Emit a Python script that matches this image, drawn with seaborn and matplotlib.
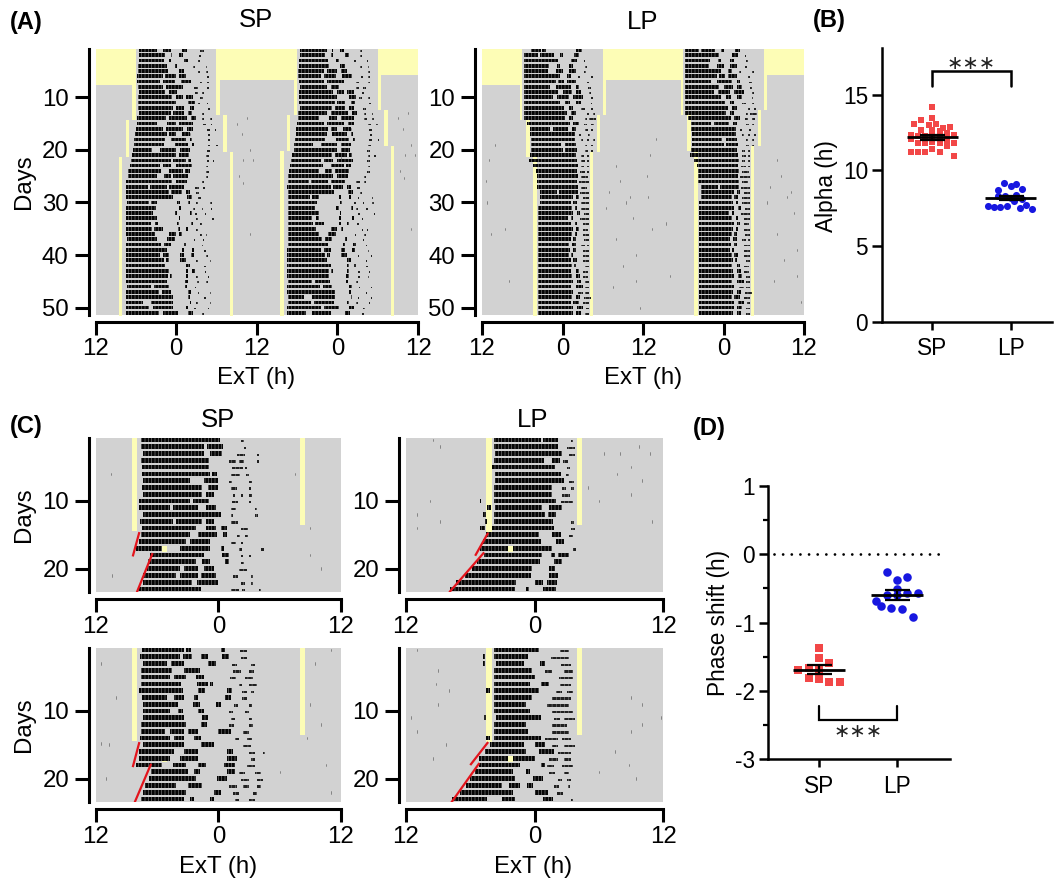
import matplotlib
matplotlib.use("Agg")
import matplotlib.pyplot as plt
import matplotlib.transforms as mtransforms
import pandas as pd
import seaborn as sns

# ---------------- Panel B / D values ----------------
B_SP_X = [0,-.14,0,-.23,-.05,.05,.13,.23,-.14,0,.10,.19,.28,-.28,-.18,-.09,0,.10,.19,-.28,-.18,-.09,0,.10,.19,.28,-.28,-.18,-.09,0,.10,.19,.28]
B_SP_Y = [14.2,13.35,13.45,13.05,13.0,13.1,12.8,12.85,12.65,12.65,12.6,12.5,12.35,12.35,12.25,12.25,12.3,12.2,12.15,12.05,11.85,11.8,11.9,11.8,11.85,11.85,11.25,11.25,11.2,11.4,11.2,11.6,10.95]
B_LP_X = [-.09,.07,-.16,0,.15,-.16,-.07,.07,0,.15,-.29,-.21,-.13,-.05,.04,.12,.2,.28]
B_LP_Y = [9.2,9.1,8.7,9.0,8.75,8.3,8.3,8.4,8.15,8.1,7.65,7.6,7.6,7.65,7.95,7.5,7.7,7.45]
B_MEAN = [12.2, 8.2]
B_SEM = [0.16, 0.13]
D_SP_X = [0,0,.13,-.265,-.13,0,-.13,0,.13,.265]
D_SP_Y = [-1.37,-1.52,-1.59,-1.69,-1.67,-1.68,-1.81,-1.82,-1.87,-1.87]
D_LP_X = [-.13,0,.13,0,.13,.265,0,-.13,-.27,-.2,-.07,.07,.2]
D_LP_Y = [-.26,-.37,-.33,-.51,-.56,-.57,-.6,-.6,-.68,-.76,-.79,-.80,-.91]
D_MEAN = [-1.69, -0.60]
D_SEM = [0.065, 0.075]
GROUPS = ["SP", "LP"]

# ---------------- Lighting schedules: (hour from, hour to, day from, day to) ----------------
A_SP_LIGHT = [(0,6,0,7.65),(18,24,0,6.7),(5.5,6,7.65,14.4),(18,18.5,6.7,13.45),(4.5,5,14.4,21.3),(19,19.5,13.45,20.35),(3.5,4,21.3,53),(20,20.5,20.35,53)]
A_LP_LIGHT = [(0,6,0,7.65),(18,24,0,6.7),(5.6,6,7.65,14.4),(18,18.5,6.7,13.45),(6.6,7.1,14.4,21.3),(17.1,17.6,13.45,20.35),(7.6,8.2,21.3,53),(16.1,16.6,20.35,53)]
C_SP_LIGHT = [(3.5,4.0,0,14.5),(20,20.5,0,13.5),(6.5,7.0,16.6,17.5)]
C_LP_LIGHT = [(7.5,8.0,0,14.55),(16,16.45,0,13.55),(9.5,10.0,16.6,17.5)]

# ---------------- Red onset fits: (hour, day) ----------------
C1_RED = [[(4.25,14.6),(3.6,18.2)],[(5.55,17.7),(4.0,23.5)]]
C2_RED = [[(7.67,14.7),(6.46,18.1)],[(7.3,17.6),(4.04,23.5)]]
C3_RED = [[(4.25,14.6),(3.6,18.3)],[(5.4,17.8),(3.75,23.65)]]
C4_RED = [[(7.67,14.6),(6.0,18.0)],[(6.85,17.7),(4.2,23.6)]]

# ---------------- Activity bouts per day ----------------
A_SP = [
[(6.5,9.1),(10.1,11.3),(12.8,13.6),(15.6,16.1)],
[(6.4,10.4),(11.2,11.4),(12.4,13),(15.4,15.7)],
[(6.4,10.2),(11,11.3),(13.2,13.7),(15.3,15.6)],
[(6.3,10.6),(11.8,12.2),(14.5,14.8),(16.4,16.6)],
[(6.3,10.8),(12.4,13.1),(15.3,15.6),(16.5,16.7)],
[(6.2,10),(10.4,12),(12.5,13.4),(16.6,16.9)],
[(6.2,9.6),(10,11.8),(12.7,14.2),(15.5,15.8),(16.6,16.9)],
[(6.3,10),(10.5,13),(14.7,15.2),(16.6,16.9)],
[(6.4,10.4),(11,12.2),(14.8,15.2),(15.8,16.2)],
[(6.3,11.4),(12,13),(13.5,14.5),(15.6,16)],
[(6.3,12),(13.8,14.8),(15.2,15.6),(16.6,16.8)],
[(6.3,11.6),(12,13.1),(14,14.6),(16.7,17)],
[(6.4,11.2),(11.6,13.2),(13.7,14.4),(15.8,16.2)],
[(6.2,10.5),(11,13.6),(14.2,14.9),(15.9,16.2),(17.1,17.3)],
[(6.2,9.2),(10.7,12),(12.5,14.5),(16,16.4),(17.2,17.4)],
[(6,10),(10.5,13),(13.6,14.5),(16.6,17),(17.8,18)],
[(5.9,10.6),(11,12),(12.8,14),(16.7,17.1)],
[(5.8,10.4),(11.2,13.4),(14,14.3),(16.8,17.1)],
[(5.7,10.2),(11.8,13.8),(14.3,14.6),(16.7,17.1),(18,18.2)],
[(5.6,8.4),(9.6,12),(12.6,14),(16.6,17)],
[(5.5,12),(12.5,13.9),(16.4,16.9)],
[(5.3,11.2),(11.6,13.4),(13.8,14.2),(16.6,16.9),(17.5,17.7)],
[(5.1,9.6),(10,11.3),(12,14.3),(16.4,16.8)],
[(4.9,9.8),(11,13),(13.3,14),(16.5,16.9)],
[(4.8,9.2),(10.2,11.2),(11.6,13.8),(16.4,16.8)],
[(4.6,11.4),(12,13.6),(15.9,16.2)],
[(4.6,7.8),(8.1,10.6),(11,13.2),(14.8,15.4),(16,16.3)],
[(4.5,11),(11.3,12.8),(13.4,14),(14.9,15.4)],
[(4.6,11.5),(13.6,14.3),(15.3,15.7)],
[(4.7,7.9),(8.2,9.2),(12.2,12.6),(13.7,14),(15,15.2),(17.1,17.3)],
[(4.6,9),(12.4,12.7),(14.5,14.8),(15.8,16),(17.2,17.4)],
[(4.6,8.6),(11.8,12.2),(14,14.3),(14.8,15.1),(16.3,16.5)],
[(4.6,9.2),(12.4,12.6),(15,15.3),(17.4,17.6)],
[(4.6,8.2),(8.8,9.3),(12.2,12.5),(14.2,14.5),(15.6,15.8)],
[(4.6,8.4),(8.7,10),(12.3,12.6),(13.4,13.7),(14.9,15.2)],
[(4.6,8.8),(11,12),(12.5,12.9),(15.6,15.8),(16.4,16.6)],
[(4.7,9.2),(10.6,11.8),(14.6,14.8),(16,16.2)],
[(4.6,9.7),(10.2,11.2),(13.2,13.5),(15.8,16)],
[(4.6,10.6),(12.8,13.2),(14.3,14.7),(16.2,16.4)],
[(4.5,9.6),(10,11),(12.6,13.1),(14.2,14.6),(16.5,16.7)],
[(4.5,10.2),(10.5,10.9),(12.6,13.4),(15,15.2),(17,17.2)],
[(4.5,10.4),(13.5,14),(16.2,16.4)],
[(4.5,11),(13.4,13.8),(14.4,14.8),(16.3,16.5)],
[(4.5,10.8),(11.1,11.4),(13.4,13.7),(15,15.3),(16.7,16.9)],
[(4.5,10.7),(13.3,13.8),(15.1,15.4),(16.5,16.7)],
[(4.7,8.2),(8.7,10.9),(13.3,13.6),(14.8,15)],
[(4.5,9.4),(9.9,11.2),(13.8,14.2),(15.2,15.4),(17,17.2)],
[(4.5,11.6),(13.8,14.1),(16.2,16.4)],
[(4.6,7),(8.2,11.6),(14,14.2),(15,15.2),(17,17.2)],
[(4.6,8),(8.5,11.5),(13.4,13.8),(14.7,15),(16.7,16.9)],
[(4.5,9.5),(10,12.3),(13.8,14.5),(15.8,16.1)],
[(4.5,7.4),(8.2,11),(13.2,13.9),(15.6,15.9)],
]
A_LP = [
[(7.3,8.8),(9,9.5),(14,14.9)],
[(6.3,8.4),(8.6,10.8),(11.6,12),(13.7,14.4)],
[(6.3,11.4),(13.2,14.2),(15.2,15.4)],
[(6.2,10),(11.2,11.6),(13,13.5),(15.3,15.6)],
[(6.2,9.9),(11,12),(13,14),(15.2,15.5)],
[(6.2,11.6),(12.6,13.2),(14.3,14.6),(16.3,16.5)],
[(6.2,11),(11.4,12.2),(12.6,14),(15.7,16)],
[(6.2,10.2),(11,13.2),(14,14.5),(15.8,16.2)],
[(6.3,11.4),(12,13.4),(14,14.8),(16,16.3)],
[(6.3,10.6),(11.2,13),(13.5,15),(16.3,16.6)],
[(6.3,11.6),(12.3,13.1),(14,14.8),(16.2,16.4)],
[(6.3,12.2),(13,13.6),(14.7,15.3),(16.2,16.5)],
[(6.3,12.6),(13.3,14),(15.7,16),(16.6,16.9)],
[(6.3,12.4),(13,13.6),(15.4,15.7),(16,17)],
[(6.7,13.1),(13.6,14.5),(15.2,15.6),(16.2,16.7)],
[(7.2,10.2),(10.6,12.8),(13.4,14),(15.4,15.8),(16.3,16.6)],
[(7.2,13.8),(14.4,14.7),(15.8,16.1)],
[(7.3,13.9),(14.7,15),(15.6,15.9),(16.5,16.9)],
[(7.3,11.8),(12.3,14),(15.4,15.7),(16.3,16.6)],
[(7.3,12),(12.4,14.2),(15.4,15.8),(16.2,16.5)],
[(7.2,14),(14.8,15.2),(15.6,16)],
[(7,14.2),(14.7,15.4),(15.6,16)],
[(7.6,14.3),(14.8,15.2),(15.6,16)],
[(8.1,14.2),(14.6,15.4),(15.6,16)],
[(8.2,14.3),(14.7,15.8)],
[(8.2,14.2),(14.5,15.9)],
[(8.2,14.3),(14.7,15.7)],
[(8.6,11.2),(11.5,14.3),(14.6,16)],
[(8.6,13.6),(14,14.4),(15,16)],
[(8.6,13.2),(13.6,14.2),(14.8,16)],
[(8.4,13.4),(13.8,14.2),(14.8,16)],
[(8.4,13.6),(14.2,14.6),(15.2,16)],
[(8.4,12.8),(13.2,13.6),(14.6,16)],
[(8.4,13.2),(13.8,14.2),(15,15.9)],
[(8.4,13.5),(14,14.4),(15,15.8)],
[(8.4,13.4),(13.8,14.1),(15,16)],
[(8.4,13.2),(13.5,14),(15.2,15.9)],
[(8.4,13),(13.4,14),(14.8,15.4),(15.6,15.9)],
[(8.4,13.1),(13.6,14),(15,16)],
[(8.4,13),(13.3,13.6),(15,15.9)],
[(8.4,13.2),(13.6,14.2),(15.1,16)],
[(8.4,13.4),(13.7,14),(15.3,16)],
[(8.4,13.2),(14,14.4),(15.1,15.8)],
[(8.4,13.4),(14,14.6),(15,15.8)],
[(8.4,13.6),(14.2,14.7),(15.3,15.9)],
[(8.4,13.3),(14,15),(15.4,16)],
[(8.4,13.5),(14.3,15),(15.4,16)],
[(8.4,13.4),(14,14.6),(15.2,16.2)],
[(8.4,13.2),(13.6,14.4),(15,16)],
[(8.4,13.5),(14.2,15),(15.5,16)],
[(8.4,13.6),(14,14.8),(15.4,16)],
[(8.4,13.4),(14,14.6),(15.3,16)],
]
C1 = [
[(4.4,12.1),(14.2,14.5)],
[(4.4,10.6),(10.9,12.4),(14.5,14.7)],
[(4.6,10.6),(11.2,12.3),(13.8,14.6),(15.8,16)],
[(4.4,11.1),(13,13.7),(14,14.5),(15.8,16)],
[(4.5,11.1),(13.3,14.4),(14.6,14.8)],
[(4.5,11.2),(11.4,11.9),(13.2,14.1),(14.7,15)],
[(4.6,9.2),(10.6,12),(13,13.3),(15,15.3)],
[(4.5,10.4),(11,12),(13.2,13.8),(15,15.2)],
[(4.6,10.4),(10.8,11.6),(13.4,13.6),(14.2,14.4),(15,15.3)],
[(4.2,9.2),(9.5,11.1),(13.3,13.9),(15,15.2)],
[(4.2,7.2),(7.5,10),(10.8,11.8),(13.2,13.7),(15.6,15.8)],
[(4.6,12.2),(13.2,13.4),(15.6,15.9)],
[(4.3,7.5),(7.8,10.4),(10.8,11.6),(13.2,13.9)],
[(4.5,9.8),(10.8,11.8),(12.2,12.8),(14.2,14.9)],
[(4.4,9.2),(10,11.9),(12.4,12.8),(13.8,14.1),(14.6,14.9)],
[(4.2,8.8),(9.2,11.2),(13.2,13.7),(14.2,14.4)],
[(3.9,6.5),(8.2,11.2),(12.2,12.5),(14,14.3),(16.2,16.5)],
[(5.3,10.6),(12.3,13),(14.2,14.4),(15,15.2)],
[(5.1,9.8),(10.4,11.2),(12.6,13),(14.2,14.5)],
[(5,8.2),(8.6,10),(10.6,11.6),(14,14.8)],
[(4.6,7.8),(8.2,10),(10.3,11.8),(13.4,13.9),(15.2,15.4)],
[(4.6,9.4),(9.9,12),(14.2,14.6),(15.2,15.4)],
[(4.1,10.3),(13.2,14),(14.3,14.6),(16,16.2)],
]
C2 = [
[(8.2,12.6),(12.8,14.2),(15.4,15.6)],
[(8.2,14.2),(15,15.8)],
[(8.3,14.6),(15.2,15.8)],
[(8.2,12.9),(13.6,14.4),(14.7,15.1)],
[(8.0,13.9),(15,15.3)],
[(8.3,14.5),(14.9,15.2)],
[(8.3,14.8),(15.2,15.7)],
[(8.2,13.6),(14.6,14.9),(15.4,15.7)],
[(8.2,13.6),(14.6,15.3)],
[(6.9,7.0),(8.2,14),(14.5,15.6)],
[(7.6,7.9),(8.3,12.7),(13.4,14.6)],
[(7.2,7.5),(8.2,13),(13.3,14)],
[(7.4,7.6),(8.2,13.7),(15.4,15.7)],
[(6.9,7.4),(8.0,13.8),(15.4,15.8)],
[(7.5,12.4),(13.6,14.5),(15.2,15.6)],
[(7.2,12.6),(14,14.8)],
[(6.9,9.5),(10,13.6),(15.6,15.9)],
[(7.3,12.7),(13.5,13.9),(14.2,15.2)],
[(6.6,12.5),(13.8,14.6)],
[(6.2,11.8),(13.4,13.9)],
[(5.5,11.7),(13.4,14.2)],
[(4.7,10.3),(12,12.8),(13.2,14.1)],
[(4.1,10.2),(11.2,11.5),(12.8,14)],
]
C3 = [
[(4.5,8.6),(8.8,9.3),(12.2,12.6),(14.1,14.8)],
[(4.3,8.2),(8.5,9.4),(10.3,11),(12.3,13),(14.2,14.8)],
[(4.6,7),(7.3,8.6),(11,11.8),(13.3,13.8),(15.2,15.6)],
[(4.4,7.4),(8.6,10.2),(13.4,14.2),(15,15.5)],
[(4.4,7.2),(7.6,8.8),(9.8,10.6),(13.1,13.7),(14.6,15.4)],
[(4.4,8.3),(9.9,11),(11.2,11.5),(14,14.3),(15,15.8)],
[(4.2,8.5),(10,10.7),(12.8,13.3),(14.3,14.8),(15.2,15.5)],
[(4.5,7),(7.6,8.6),(9.6,10),(12.6,13.2),(14.3,14.8)],
[(4.6,8),(9.5,10.2),(11.8,12.2),(13.5,13.9),(15,15.3)],
[(4.6,7.2),(8,8.5),(10,10.6),(13,13.4),(14.6,15)],
[(4.6,8.6),(10.4,11),(13.2,13.6),(15,15.3)],
[(4.4,8.8),(10.3,10.9),(13,13.5),(15,15.4)],
[(4.4,6.8),(7.2,8.6),(9,10),(12,13.2),(14.4,15)],
[(4.3,7.2),(7.6,8.6),(9.6,10.3),(13.6,14),(14.8,15.3)],
[(4.6,8.6),(10.3,11.6),(14.4,15.2)],
[(4.2,7.6),(8.6,10),(12.8,13.4),(15,15.6),(16.4,16.6)],
[(4.2,7.2),(8.2,10),(12.8,13.8),(15.2,15.6)],
[(3.9,6.5),(7.5,8.8),(10,10.8),(12.5,13.6),(14.8,15.6)],
[(5.4,9),(9.6,10.2),(12.8,13.6),(14,14.6),(15.6,16.2)],
[(5.2,9.8),(11.9,12.8),(14.2,15),(15.8,16.4)],
[(4.8,7.8),(9,10.4),(13,13.8),(14.4,15),(15.8,16.2)],
[(4.6,8.8),(11.6,12.2),(13.4,14),(15.4,15.8)],
[(4.4,8.6),(9.2,9.6),(11.2,11.6),(13.6,14),(15,15.6)],
]
C4 = [
[(8.2,12.4),(14.4,15.2)],
[(7.2,7.4),(8.2,11.4),(13.5,15.2)],
[(7.2,7.4),(8.4,11),(12.5,13),(14.5,15.4)],
[(8.2,11.8),(13,13.6),(14.8,15.6)],
[(8.2,12),(14.3,15.6)],
[(8.2,11.6),(12.6,13.4),(14.4,15.4)],
[(7.5,7.8),(8.2,12.4),(14,14.6),(15,15.6)],
[(8.2,11.8),(13.6,15.4)],
[(8.2,11.2),(13.2,15.2)],
[(8.2,11.6),(13.6,15.6)],
[(7.3,7.5),(8.4,12.6),(13.8,14.4),(14.8,15.8)],
[(8.2,11.2),(13.6,15)],
[(8.2,11.4),(13.6,15.2)],
[(7.5,7.8),(8.2,12.6),(13,14.2),(14.6,15.4)],
[(7.8,11),(12,13),(13.6,14.2),(14.8,15.8)],
[(7.4,11.2),(12.4,13.8),(14.2,15.4)],
[(6.8,9.5),(10,12),(13.4,14.2),(14.8,15.4)],
[(6.8,10.6),(12.6,13),(13.2,13.8),(14.6,15.6)],
[(6.4,10),(11.2,11.6),(13.4,13.9),(14.8,15.2)],
[(6,10.2),(11.9,12.8),(14.2,14.6),(15,15.4)],
[(5.6,9),(9.6,10.6),(11.3,11.9),(13.8,14.3),(15.1,15.3)],
[(5,10),(12,13.3),(14.1,14.7)],
[(4.3,7.6),(9,10.2),(12.8,13.7),(15.4,15.6)],
]

# Faint isolated counts: (hour, day)
A_SP_SPECK = [(12.5,22.6),(14,17),(21,15),(21.8,17),(22,22),(21.3,25),(21.9,26.3),(22.5,14),(23,20),(23.5,22),(23,36)]
A_LP_SPECK = [(1,22),(0.6,26),(0.7,30),(1.4,36),(20,23),(20.5,26),(19,28),(21.5,30),(22,29),(18.5,31),(20,37),(21,42),(19.5,46),(22.5,33),(23,40),(23.5,50),(23,45),(2,19),(3.5,35),(4,45)]
C1_SPECK = [(1.5,6),(19.5,6),(21,14),(1.6,21),(22,20),(21,18)]
C2_SPECK = [(2.5,1),(3.2,2),(1,14),(2.2,10),(3.2,13),(18.5,3),(20,3),(21.8,2),(22.8,3),(21,5),(19.7,6),(22,7),(21,9),(23,13),(18,10),(1,12),(17,8)]
C3_SPECK = [(0.5,3),(2,8),(1.3,15),(0.5,14.8),(1,20),(23,1),(21.5,3),(20.7,14),(22.5,18),(23,22),(18,19),(21,9),(22,12)]
C4_SPECK = [(1,1),(2.8,6),(3,4),(4,7),(3,9),(0.5,11),(1,13),(3.7,15),(2.5,17),(21,8),(22,9),(23.8,11),(21,13),(22,12),(19.5,16),(20.8,18),(21.5,20),(18,19)]

# ---------------- Styling ----------------
sns.set_theme(style="white")
GREY, YELLOW = "#d2d2d2", "#fdfdb6"
RED, BLUE = "#f24747", "#1717e0"
plt.rcParams["font.family"] = ["Liberation Sans", "DejaVu Sans"]
plt.rcParams["hatch.color"] = "#8c8c8c"
plt.rcParams["hatch.linewidth"] = 0.4
W, H = 1056, 881
fig = plt.figure(figsize=(W / 100, H / 100), dpi=100, facecolor="white")
PX = mtransforms.Affine2D().scale(1, -1).translate(0, H)
FS = 17.3
FS2 = 16.3
LW = 2.2


def make_ax(x0, x1, y0, y1):
    ax = fig.add_axes([x0 / W, 1 - y1 / H, (x1 - x0) / W, (y1 - y0) / H])
    ax.set_facecolor("none")
    for s in ["top", "right"]:
        ax.spines[s].set_visible(False)
    for s in ["left", "bottom"]:
        ax.spines[s].set_color("black")
        ax.spines[s].set_linewidth(LW)
    return ax


def put_labels(ax, xlabel=None, xpos=None, ylabel=None, ypos=None, fs=FS):
    if xlabel:
        ax.set_xlabel(xlabel, fontsize=fs, color="black", va="center", ha="center")
        ax.xaxis.set_label_coords(*xpos, transform=PX)
    if ylabel:
        ax.set_ylabel(ylabel, fontsize=fs, color="black", va="center", ha="center")
        ax.yaxis.set_label_coords(*ypos, transform=PX)


def bouts(ax, rows, shift, dshift, tail, h=0.7):
    for i, row in enumerate(rows):
        y0 = i + 1 + dshift - h / 2
        main = [(a + shift, b - a) for a, b in row if a < tail]
        late = [(a + shift, b - a) for a, b in row if a >= tail]
        ax.broken_barh(main, (y0, h), facecolors="#050505", edgecolors="#8c8c8c",
                       linewidth=0, hatch="|||||", zorder=3)
        ax.broken_barh(late, (y0 + h * 0.5, h * 0.5), facecolors="#202020", edgecolors="#8c8c8c",
                       linewidth=0, hatch="||||", zorder=3)


def actogram(box, rows, light, specks, ylim, yticks, xticks, xlabs, tail, red=None, double=False):
    ax = make_ax(*box)
    span = 48 if double else 24
    ax.axhspan(0, 60, color=GREY, lw=0, zorder=0)
    shifts = [(0, 0), (24, -1)] if double else [(0, 0)]
    for sh, ds in shifts:
        for a, b, d0, d1 in light:
            ax.fill_between([a + sh, b + sh], d0 + ds, d1 + ds, color=YELLOW, lw=0, zorder=1)
        bouts(ax, rows, sh, ds, tail)
        for hx, dy in specks:
            ax.plot([hx + sh, hx + sh], [dy + ds - .2, dy + ds + .2], color="#666666", lw=0.5, zorder=2)
    if red:
        for seg in red:
            ax.plot([seg[0][0], seg[1][0]], [seg[0][1], seg[1][1]], color="#e3141c", lw=1.6, zorder=5, solid_capstyle="butt")
    ax.set_xlim(0, span)
    ax.set_ylim(*ylim)
    ax.set_yticks(yticks)
    ax.set_xticks(xticks, xlabs)
    ax.spines["left"].set_position(("outward", 4.8))
    ax.spines["bottom"].set_position(("outward", 4.8))
    ax.tick_params(axis="y", length=10, width=LW, labelsize=FS, pad=4.5, left=True, labelcolor="black", color="black")
    ax.tick_params(axis="x", length=9, width=LW, labelsize=FS, pad=3, bottom=True, labelcolor="black", color="black")
    return ax


XT48, XL48 = [0, 12, 24, 36, 48], ["12", "0", "12", "0", "12"]
XT24, XL24 = [0, 12, 24], ["12", "0", "12"]
YA, YC = [10, 20, 30, 40, 50], [10, 20]

ax = actogram((95.5, 418, 48.7, 315), A_SP, A_SP_LIGHT, A_SP_SPECK, (51.4, 0.76), YA, XT48, XL48, 14.5, double=True)
put_labels(ax, "ExT (h)", (256, 378), "Days", (24, 182))
ax = actogram((482, 804, 48.7, 315), A_LP, A_LP_LIGHT, A_LP_SPECK, (51.4, 0.76), YA, XT48, XL48, 14.3, double=True)
put_labels(ax, "ExT (h)", (643, 378))

ax = actogram((96, 341, 437.7, 592.3), C1, C_SP_LIGHT, C1_SPECK, (23.5, 0.65), YC, XT24, XL24, 13, red=C1_RED)
put_labels(ax, ylabel="Days", ypos=(24, 515))
actogram((406, 663, 437.7, 592.3), C2, C_LP_LIGHT, C2_SPECK, (23.5, 0.65), YC, XT24, XL24, 14.5, red=C2_RED)
ax = actogram((96, 341, 647.7, 802.3), C3, C_SP_LIGHT, C3_SPECK, (23.5, 0.65), YC, XT24, XL24, 13, red=C3_RED)
put_labels(ax, "ExT (h)", (218, 867), "Days", (24, 725))
ax = actogram((406, 663, 647.7, 802.3), C4, C_LP_LIGHT, C4_SPECK, (23.5, 0.65), YC, XT24, XL24, 13, red=C4_RED)
put_labels(ax, "ExT (h)", (533, 867))


def dots(ax, xs, ys, color, marker, size):
    df = pd.DataFrame({"x": xs, "y": ys})
    sns.scatterplot(data=df, x="x", y="y", ax=ax, color=color, marker=marker, s=size, linewidth=0, legend=False, zorder=2)


def mean_sem(ax, means, sems):
    for i, (m, s) in enumerate(zip(means, sems)):
        ax.plot([i - .33, i + .33], [m, m], color="black", lw=2.0, zorder=4, solid_capstyle="butt")
        ax.errorbar([i], [m], yerr=[s], color="black", lw=1.6, capsize=9, capthick=1.6, zorder=4)


# Panel B
axb = make_ax(882, 1052, 48, 321.7)
dots(axb, B_SP_X, B_SP_Y, RED, "s", 22)
dots(axb, [1 + v for v in B_LP_X], B_LP_Y, BLUE, "o", 26)
mean_sem(axb, B_MEAN, B_SEM)
axb.set_xlim(-0.645, 1.53)
axb.set_ylim(0, 18.1)
axb.set_yticks([0, 5, 10, 15])
axb.set_xticks([0, 1], GROUPS)
axb.tick_params(axis="y", length=7, width=1.8, labelsize=FS2, pad=3, left=True, labelcolor="black", color="black")
axb.tick_params(axis="x", length=6, width=1.8, labelsize=FS2, pad=5, bottom=True, labelcolor="black", color="black")
axb.spines["left"].set_linewidth(1.8)
axb.spines["bottom"].set_linewidth(1.8)
axb.set_xlabel("")
put_labels(axb, ylabel="Alpha (h)", ypos=(827, 186), fs=FS2)
axb.plot([0, 0, 1, 1], [15.6, 16.6, 16.6, 15.6], color="black", lw=1.8, solid_joinstyle="miter")
axb.text(0.5, 17.05, "∗∗∗", ha="center", va="center", fontsize=14, color="#222222", family="DejaVu Sans")

# Panel D
axd = make_ax(767.7, 950, 486, 759.3)
dots(axd, D_SP_X, D_SP_Y, RED, "s", 36)
dots(axd, [1 + v for v in D_LP_X], D_LP_Y, BLUE, "o", 38)
mean_sem(axd, D_MEAN, D_SEM)
axd.set_xlim(-0.655, 1.68)
axd.set_ylim(-3, 1)
axd.set_yticks([-3, -2, -1, 0, 1], ["-3", "-2", "-1", "0", "1"])
axd.set_yticks([-2.5, -1.5, -0.5, 0.5], minor=True)
axd.set_xticks([0, 1], GROUPS)
axd.tick_params(axis="y", which="major", length=6.5, width=1.8, labelsize=FS2, pad=2.5, left=True, labelcolor="black", color="black")
axd.tick_params(axis="y", which="minor", length=3.4, width=1.6, left=True, color="black")
axd.tick_params(axis="x", length=6, width=1.8, labelsize=FS2, pad=5, bottom=True, labelcolor="black", color="black")
axd.spines["left"].set_linewidth(1.8)
axd.spines["bottom"].set_linewidth(1.8)
axd.set_xlabel("")
put_labels(axd, ylabel="Phase shift (h)", ypos=(718, 623), fs=FS2)
axd.plot([-0.57, 1.62], [0, 0], color="black", lw=2.0, linestyle=(0, (0.01, 3.1)), dash_capstyle="round")
axd.plot([0, 0, 1, 1], [-2.225, -2.43, -2.43, -2.225], color="black", lw=1.6, solid_joinstyle="miter")
axd.text(0.5, -2.6, "∗∗∗", ha="center", va="center", fontsize=14, color="#222222", family="DejaVu Sans")

# Titles and panel letters
for label, x, y in [("SP", 256, 20), ("LP", 643, 22), ("SP", 218, 420), ("LP", 533, 420)]:
    fig.text(x, y, label, transform=PX, ha="center", va="center", fontsize=18.5, color="black")
for label, x, y in [("(A)", 10, 22), ("(B)", 813, 20), ("(C)", 10, 426), ("(D)", 693, 428)]:
    fig.text(x, y, label, transform=PX, ha="left", va="center", fontsize=17, fontweight="bold", color="black")

fig.savefig("out.png", dpi=100)
